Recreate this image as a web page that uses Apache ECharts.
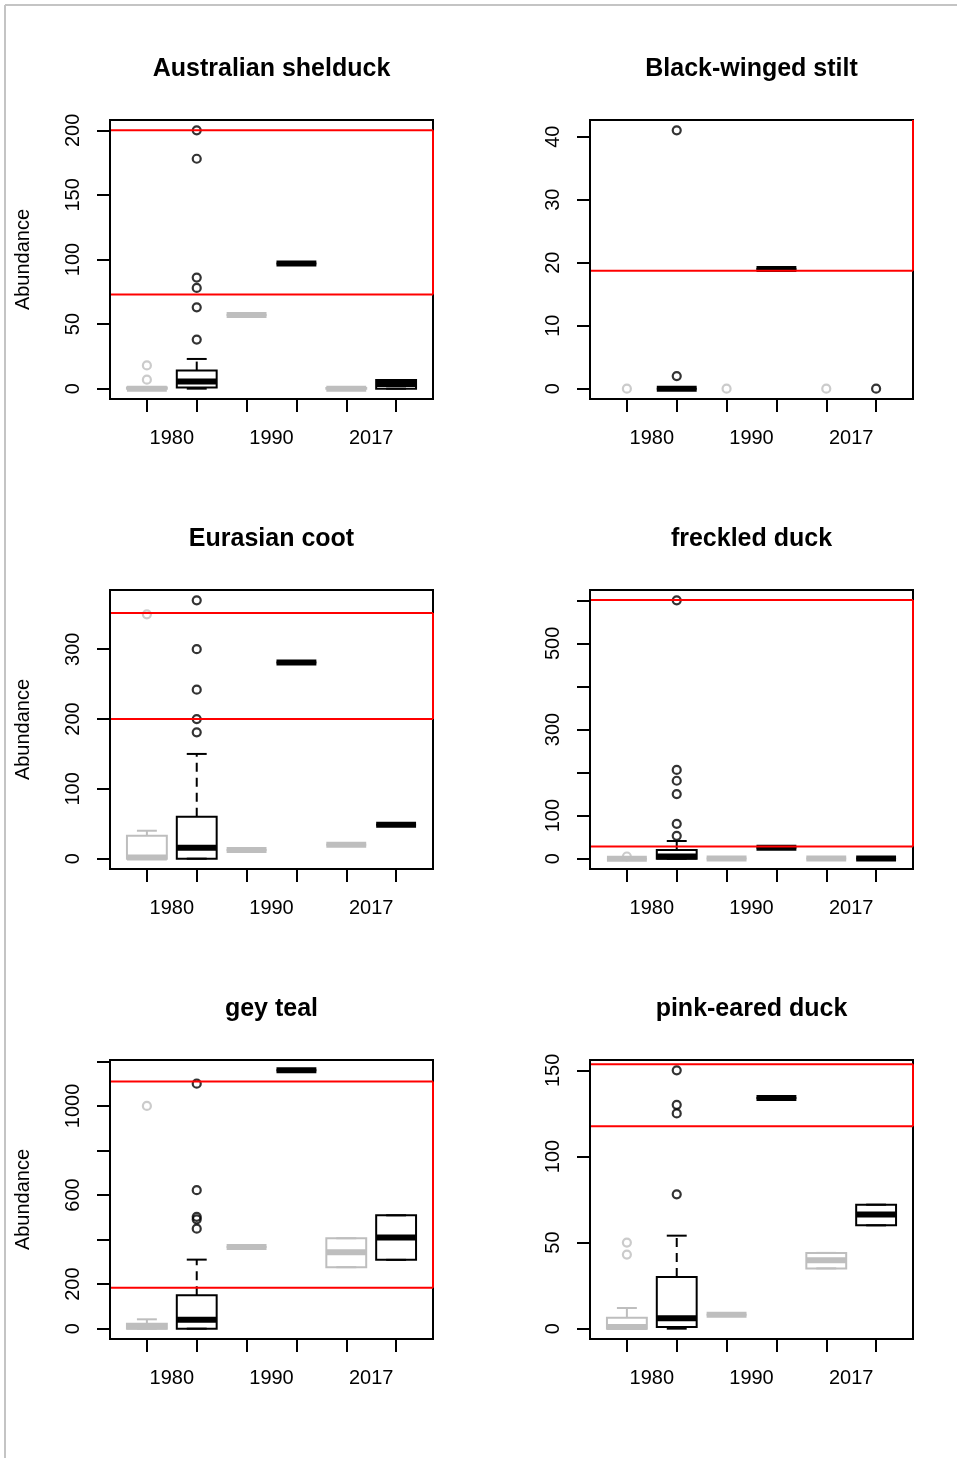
<!DOCTYPE html>
<html lang="en">
<head>
  <meta charset="UTF-8">
  <script src="https://cdn.jsdelivr.net/npm/echarts@6/dist/echarts.min.js"></script>
</head>
<body style="margin:0;background:#fff;">
  <div id="main" style="width:957px;height:1458px;"></div>
  <script type="text/javascript">
    const species = ['Australian shelduck', 'Black-winged stilt', 'Eurasian coot', 'freckled duck', 'gey teal', 'pink-eared duck'];
    const periods = ['1980', '1990', '2017'];
    const periodPos = [1.5, 3.5, 5.5];
    const groupPos = [1, 2, 3, 4, 5, 6];

    // box stats per group: [min, Q1, median, Q3, max]; null = no box drawn
    const shelduckBoxes = [[0, 0, 0, 1, 1], [0, 1, 5.5, 14, 23], [57, 57, 57, 57, 57], [97, 97, 97, 97, 97], [0, 0, 0, 0.5, 0.5], [0, 0, 3.6, 6.7, 6.7]];
    const stiltBoxes = [null, [0, 0, 0, 0, 0], null, [19, 19, 19, 19, 19], null, null];
    const cootBoxes = [[0, 0, 1.5, 33, 40], [0, 0, 15.7, 60, 150], [12.4, 12.4, 12.4, 12.4, 12.4], [281, 281, 281, 281, 281], [20, 20, 20, 20, 20], [48.6, 48.6, 48.6, 48.6, 48.6]];
    const freckledBoxes = [[0, 0, 0, 0, 0], [0, 0, 5, 20, 41], [0.5, 0.5, 0.5, 0.5, 0.5], [25.6, 25.6, 25.6, 25.6, 25.6], [0.5, 0.5, 0.5, 0.5, 0.5], [0.5, 0.5, 0.5, 0.5, 0.5]];
    const tealBoxes = [[0, 0, 10, 22, 42], [0, 0, 40, 150, 310], [367, 367, 367, 367, 367], [1160, 1160, 1160, 1160, 1160], [276, 276, 343, 406, 406], [309, 309, 409, 509, 509]];
    const pinkBoxes = [[0, 0, 1, 6.4, 12], [0, 1, 6, 30, 54], [8.1, 8.1, 8.1, 8.1, 8.1], [134, 134, 134, 134, 134], [35, 35, 39.7, 44, 44], [60, 60, 66.3, 72, 72]];

    // outliers: [group, value]
    const shelduckOut = [[1, 18], [1, 7], [2, 200], [2, 178], [2, 86], [2, 78], [2, 63], [2, 38]];
    const stiltOut = [[1, 0], [2, 2], [2, 41], [3, 0], [5, 0], [6, 0]];
    const cootOut = [[1, 350], [2, 370], [2, 300], [2, 242], [2, 200], [2, 181]];
    const freckledOut = [[1, 5], [2, 53], [2, 81], [2, 150], [2, 181], [2, 206], [2, 600]];
    const tealOut = [[1, 1000], [2, 1100], [2, 622], [2, 502], [2, 491], [2, 449]];
    const pinkOut = [[1, 50], [1, 43], [2, 150], [2, 130], [2, 125], [2, 78]];

    // red reference band: [lower, upper]
    const shelduckBand = [73, 200];
    const stiltBand = [18.7, 50];
    const cootBand = [200, 352];
    const freckledBand = [28, 601];
    const tealBand = [184, 1110];
    const pinkBand = [117.6, 153.5];

    // y axis ticks and labelled ticks
    const shelduckTicks = [0, 50, 100, 150, 200];
    const stiltTicks = [0, 10, 20, 30, 40];
    const cootTicks = [0, 100, 200, 300];
    const freckledTicks = [0, 100, 200, 300, 400, 500, 600];
    const freckledLabels = [0, 100, 300, 500];
    const tealTicks = [0, 200, 400, 600, 800, 1000, 1200];
    const tealLabels = [0, 200, 600, 1000];
    const pinkTicks = [0, 50, 100, 150];

    const panels = [
      { name: species[0], boxes: shelduckBoxes, out: shelduckOut, band: shelduckBand, ticks: shelduckTicks, labels: shelduckTicks },
      { name: species[1], boxes: stiltBoxes, out: stiltOut, band: stiltBand, ticks: stiltTicks, labels: stiltTicks },
      { name: species[2], boxes: cootBoxes, out: cootOut, band: cootBand, ticks: cootTicks, labels: cootTicks },
      { name: species[3], boxes: freckledBoxes, out: freckledOut, band: freckledBand, ticks: freckledTicks, labels: freckledLabels },
      { name: species[4], boxes: tealBoxes, out: tealOut, band: tealBand, ticks: tealTicks, labels: tealLabels },
      { name: species[5], boxes: pinkBoxes, out: pinkOut, band: pinkBand, ticks: pinkTicks, labels: pinkTicks },
    ];

    const font = 'Liberation Sans, Arial, Helvetica, sans-serif';
    const gray = '#bebebe';
    const black = '#000';
    const groupColor = p => (p % 2 === 1 ? gray : black);

    // R style range: data range padded by 4% each side
    function yRange(p) {
      let vals = [];
      p.boxes.forEach(b => { if (b) vals = vals.concat(b); });
      p.out.forEach(o => vals.push(o[1]));
      const lo = Math.min(...vals), hi = Math.max(...vals);
      const pad = (hi - lo) * 0.04;
      return [lo - pad, hi + pad];
    }

    function renderBox(params, api) {
      const x = api.value(0);
      const lo = api.value(1), q1 = api.value(2), med = api.value(3), q3 = api.value(4), hi = api.value(5);
      const color = groupColor(x);
      const halfBox = api.size([0.4, 0])[0];
      const halfStaple = halfBox / 2;
      const px = api.coord([x, med])[0];
      const py = v => api.coord([x, v])[1];
      const seg = (x1, y1, x2, y2, w, dash) => ({
        type: 'line',
        shape: { x1: x1, y1: y1, x2: x2, y2: y2 },
        style: dash ? { stroke: color, lineWidth: w, lineDash: dash } : { stroke: color, lineWidth: w }
      });
      const kids = [];
      if (hi > q3) kids.push(seg(px, py(q3), px, py(hi), 2, [9, 6]));
      if (lo < q1) kids.push(seg(px, py(q1), px, py(lo), 2, [9, 6]));
      kids.push(seg(px - halfStaple, py(hi), px + halfStaple, py(hi), 2));
      kids.push(seg(px - halfStaple, py(lo), px + halfStaple, py(lo), 2));
      kids.push({
        type: 'rect',
        shape: { x: px - halfBox, y: py(q3), width: 2 * halfBox, height: py(q1) - py(q3) },
        style: { stroke: color, lineWidth: 2, fill: 'none' }
      });
      kids.push(seg(px - halfBox, py(med), px + halfBox, py(med), 6));
      return { type: 'group', children: kids };
    }

    function renderBand(params, api) {
      const cs = params.coordSys;
      const top = cs.y, bot = cs.y + cs.height;
      const yLo = api.coord([periodPos[0], api.value(0)])[1];
      const yHi = api.coord([periodPos[0], api.value(1)])[1];
      const clamp = v => Math.max(top, Math.min(bot, v));
      const st = { stroke: '#ff0000', lineWidth: 2 };
      const kids = [];
      [yLo, yHi].forEach(y => {
        if (y >= top && y <= bot) kids.push({ type: 'line', shape: { x1: cs.x, y1: y, x2: cs.x + cs.width, y2: y }, style: st });
      });
      [cs.x, cs.x + cs.width].forEach(x => {
        kids.push({ type: 'line', shape: { x1: x, y1: clamp(yHi), x2: x, y2: clamp(yLo) }, style: st });
      });
      return { type: 'group', children: kids };
    }

    const grids = [], xAxes = [], yAxes = [], series = [], graphics = [];
    panels.forEach((p, i) => {
      const col = i % 2, row = Math.floor(i / 2);
      const left = 110 + 480 * col, top = 120 + 470 * row;
      grids.push({ left: left, top: top, width: 323, height: 279, show: true, borderColor: '#000', borderWidth: 2, backgroundColor: 'transparent' });
      xAxes.push({
        type: 'value', gridIndex: i, min: 0.26, max: 6.74,
        axisLine: { show: true, onZero: false, lineStyle: { color: '#000', width: 2 } },
        axisTick: { show: true, customValues: groupPos, length: 13, lineStyle: { color: '#000', width: 2 } },
        axisLabel: { customValues: periodPos, formatter: v => periods[periodPos.indexOf(v)], margin: 29, fontSize: 20, color: '#000', fontFamily: font },
        splitLine: { show: false }
      });
      const r = yRange(p);
      yAxes.push({
        type: 'value', gridIndex: i, min: r[0], max: r[1], z: 5,
        name: col === 0 ? 'Abundance' : '', nameLocation: 'middle', nameRotate: 90, nameGap: 77,
        nameTextStyle: { fontSize: 20, color: '#000', fontFamily: font },
        axisLine: { show: true, onZero: false, lineStyle: { color: '#000', width: 2 } },
        axisTick: { show: true, customValues: p.ticks, length: 13, lineStyle: { color: '#000', width: 2 } },
        axisLabel: { customValues: p.labels, formatter: v => String(v), rotate: 90, margin: 27, fontSize: 20, color: '#000', fontFamily: font },
        splitLine: { show: false }
      });
      const boxData = [];
      p.boxes.forEach((b, k) => { if (b) boxData.push([groupPos[k]].concat(b)); });
      series.push({
        type: 'custom', xAxisIndex: i, yAxisIndex: i, z: 2, silent: true,
        encode: { x: 0, y: [1, 2, 3, 4, 5] },
        renderItem: renderBox, data: boxData
      });
      series.push({
        type: 'scatter', xAxisIndex: i, yAxisIndex: i, z: 3, silent: true,
        symbol: 'circle', symbolSize: 8,
        itemStyle: { color: 'rgba(0,0,0,0)', borderWidth: 2.2 },
        data: p.out.map(o => ({ value: o, itemStyle: { borderColor: groupColor(o[0]) } }))
      });
      series.push({
        type: 'custom', xAxisIndex: i, yAxisIndex: i, z: 4, silent: true,
        encode: { y: [0, 1] },
        renderItem: renderBand, data: [p.band]
      });
      graphics.push({
        type: 'text', x: left + 161.5, y: top - 51,
        style: { text: p.name, font: 'bold 25px ' + font, fill: '#000', align: 'center', verticalAlign: 'middle' }
      });
    });

    // light gray frame along the top and left edges
    graphics.push({ type: 'line', shape: { x1: 5, y1: 5, x2: 957, y2: 5 }, style: { stroke: '#c4c4c4', lineWidth: 2 } });
    graphics.push({ type: 'line', shape: { x1: 5, y1: 5, x2: 5, y2: 1458 }, style: { stroke: '#c4c4c4', lineWidth: 2 } });

    const myChart = echarts.init(document.getElementById('main'));
    myChart.setOption({
      animation: false,
      grid: grids,
      xAxis: xAxes,
      yAxis: yAxes,
      series: series,
      graphic: graphics
    });
  </script>
</body>
</html>
